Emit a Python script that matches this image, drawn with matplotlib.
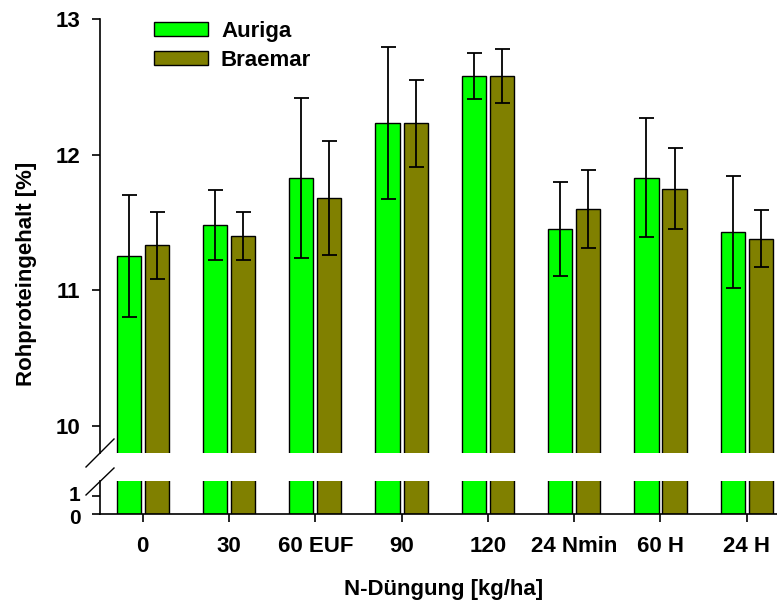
import numpy as np
import matplotlib
matplotlib.use("Agg")
import matplotlib.pyplot as plt
import matplotlib.transforms as mtransforms
from matplotlib.lines import Line2D

# Rohproteingehalt je N-Stufe (Mittelwert und Standardabweichung)
stufen = ["0", "30", "60 EUF", "90", "120", "24 Nmin", "60 H", "24 H"]
auriga = [11.25, 11.48, 11.83, 12.23, 12.58, 11.45, 11.83, 11.43]
auriga_sd = [0.45, 0.26, 0.59, 0.56, 0.17, 0.345, 0.44, 0.41]
braemar = [11.33, 11.40, 11.68, 12.23, 12.58, 11.60, 11.75, 11.38]
braemar_sd = [0.25, 0.18, 0.42, 0.32, 0.20, 0.285, 0.30, 0.21]

plt.rcParams["font.family"] = ["Liberation Sans", "DejaVu Sans"]
plt.rcParams["font.weight"] = "bold"
plt.rcParams["font.size"] = 16

W, H = 777, 603
fig = plt.figure(figsize=(W / 100, H / 100), dpi=100)

# zwei Achsen fuer die unterbrochene y-Achse
x0, x1 = 100, 777
ax_top = fig.add_axes([x0 / W, 1 - 453 / H, (x1 - x0) / W, (453 - 19) / H])
ax_bot = fig.add_axes([x0 / W, 1 - 514 / H, (x1 - x0) / W, (514 - 481) / H])

x = np.arange(len(stufen))
b = 0.28
off = 0.163
c_aur = "#00ff00"
c_bra = "#808000"

for ax in (ax_top, ax_bot):
    ax.bar(x - off, auriga, b, color=c_aur, edgecolor="black", linewidth=1.0, label="Auriga")
    ax.bar(x + off, braemar, b, color=c_bra, edgecolor="black", linewidth=1.0, label="Braemar")
    ax.set_xlim(-0.495, 7.35)
    for s in ("top", "right"):
        ax.spines[s].set_visible(False)
    ax.spines["left"].set_linewidth(1.2)
    ax.spines["bottom"].set_linewidth(1.2)
    ax.tick_params(width=1.2, length=6)
    ax.tick_params(axis="y", pad=8)

ax_top.errorbar(x - off, auriga, yerr=auriga_sd, fmt="none", ecolor="black",
                elinewidth=1.3, capsize=5.4, capthick=1.3)
ax_top.errorbar(x + off, braemar, yerr=braemar_sd, fmt="none", ecolor="black",
                elinewidth=1.3, capsize=5.4, capthick=1.3)

ax_top.set_ylim(9.8, 13)
ax_top.set_yticks([10, 11, 12, 13])
ax_top.spines["bottom"].set_visible(False)
ax_top.tick_params(axis="x", bottom=False, labelbottom=False)

ax_bot.set_ylim(0, 1.83)
ax_bot.set_yticks([0, 1])
ax_bot.set_xticks(x)
ax_bot.set_xticklabels(stufen)
ax_bot.tick_params(axis="x", pad=10)

# "0" und "1" liegen sehr eng: etwas auseinanderschieben
lab0, lab1 = ax_bot.get_yticklabels()
lab0.set_transform(lab0.get_transform() + mtransforms.ScaledTranslation(0, -2 / 72, fig.dpi_scale_trans))
lab1.set_transform(lab1.get_transform() + mtransforms.ScaledTranslation(0, 2 / 72, fig.dpi_scale_trans))
lab0.set_fontsize(15)
lab1.set_fontsize(15)

# Bruchstriche an der y-Achse
for ya, yb in ((467, 439), (495, 468)):
    fig.add_artist(Line2D([86 / W, 114 / W], [1 - ya / H, 1 - yb / H],
                          transform=fig.transFigure, color="black", lw=1.0))

fig.text(27 / W, 1 - 274 / H, "Rohproteingehalt [%]", rotation=90,
         ha="center", va="center", fontweight="bold")
fig.text(444 / W, 1 - 590 / H, "N-Düngung [kg/ha]",
         ha="center", va="center", fontweight="bold")

ax_top.legend(loc="upper left", bbox_to_anchor=(154 / W, 1 - 21 / H),
              bbox_transform=fig.transFigure, frameon=False, borderpad=0,
              handlelength=2.43, handleheight=0.585, handletextpad=0.585,
              labelspacing=0.37, borderaxespad=0)

fig.savefig("out.png", dpi=100)
